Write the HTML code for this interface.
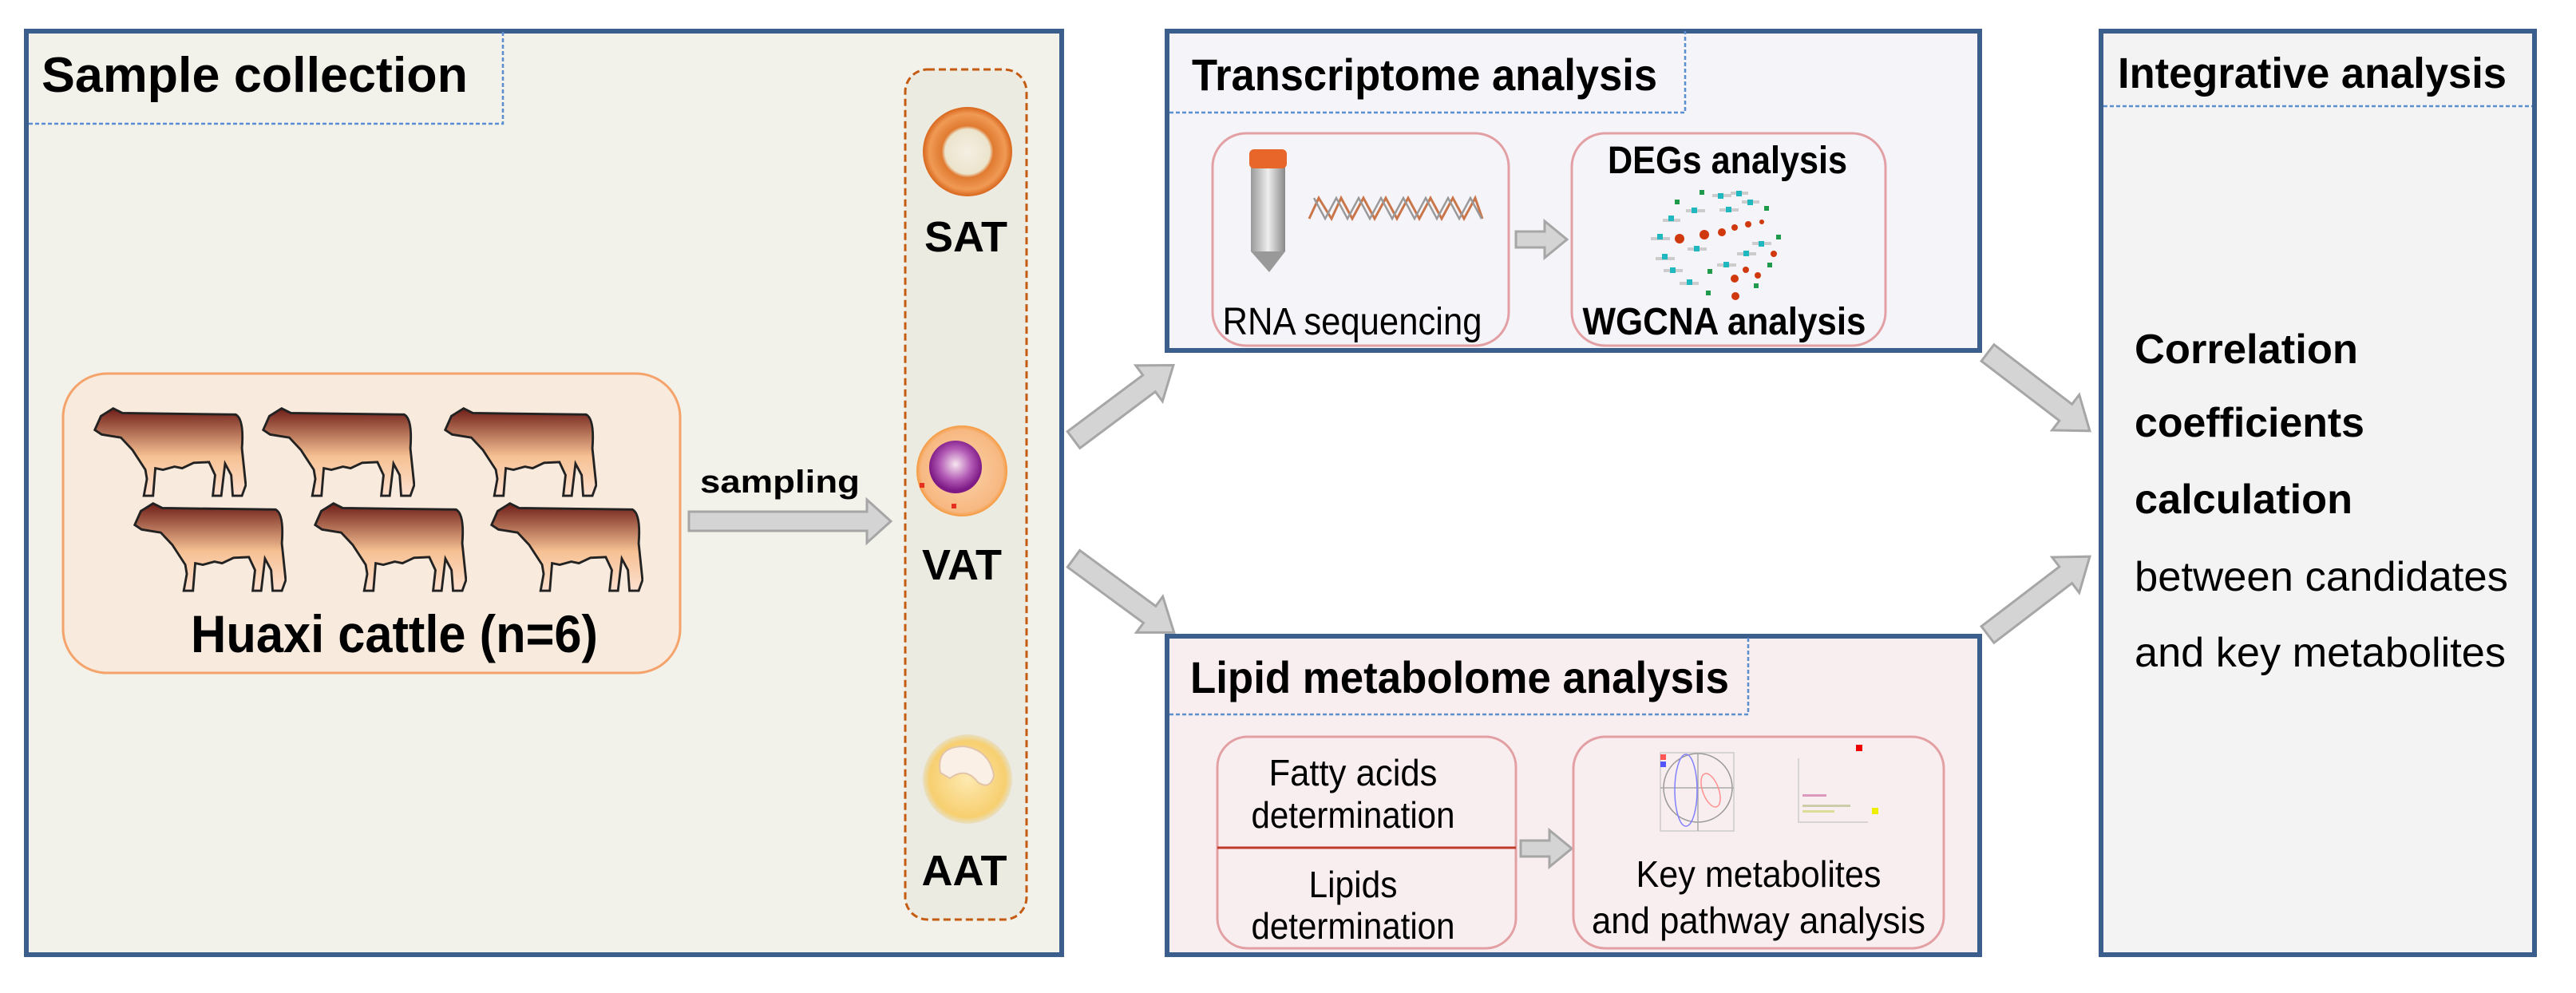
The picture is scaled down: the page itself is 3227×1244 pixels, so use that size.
<!DOCTYPE html>
<html><head><meta charset="utf-8"><style>html,body{margin:0;padding:0;background:#fff}svg{display:block}</style></head><body>
<svg width="3227" height="1244" viewBox="0 0 3227 1244" xmlns="http://www.w3.org/2000/svg" font-family="Liberation Sans, sans-serif">
<defs>
<linearGradient id="cow" x1="0" y1="0" x2="0" y2="1"><stop offset="0" stop-color="#6e1e18"/><stop offset="0.55" stop-color="#f6c193"/><stop offset="1" stop-color="#fde0d0"/></linearGradient>
<radialGradient id="sat" cx="0.5" cy="0.5" r="0.5"><stop offset="0" stop-color="#f5efe4"/><stop offset="0.5" stop-color="#ece4cc"/><stop offset="0.58" stop-color="#e07a30"/><stop offset="0.85" stop-color="#f09a55"/><stop offset="1" stop-color="#d8661c"/></radialGradient>
<radialGradient id="vat" cx="0.5" cy="0.5" r="0.5"><stop offset="0" stop-color="#fbd3a8"/><stop offset="0.9" stop-color="#f7b882"/><stop offset="1" stop-color="#f59a40"/></radialGradient>
<radialGradient id="nuc" cx="0.5" cy="0.45" r="0.5"><stop offset="0" stop-color="#f7e6ef"/><stop offset="0.6" stop-color="#b25ab5"/><stop offset="1" stop-color="#7d1a86"/></radialGradient>
<radialGradient id="aat" cx="0.5" cy="0.5" r="0.5"><stop offset="0" stop-color="#fde9b0"/><stop offset="0.85" stop-color="#f7cf70"/><stop offset="1" stop-color="#e8e0c4"/></radialGradient>
<linearGradient id="tube" x1="0" x2="1"><stop offset="0" stop-color="#999"/><stop offset="0.5" stop-color="#eee"/><stop offset="1" stop-color="#888"/></linearGradient>
<symbol id="cowS" viewBox="0 0 200 125">
<path d="M30,8 L42,14 L190,16 Q201,22 198,60 L203,108 L198,122 L186,122 L184,95 L176,80 L171,122 L160,122 L163,95 L155,78 L135,79 L120,86 L110,84 L95,88 L85,86 L82,122 L70,122 L74,100 L72,88 L55,62 L40,46 L15,42 L6,36 L14,18 Z" fill="url(#cow)" stroke="#222" stroke-width="3"/>
</symbol>
</defs>

<!-- Sample collection -->
<rect x="33" y="39" width="1297" height="1157" fill="#f2f1ea" stroke="#3b5e8c" stroke-width="6"/>
<path d="M36,155 H630 V39" fill="none" stroke="#5b8fd0" stroke-width="2.5" stroke-dasharray="5,3"/>
<text x="52" y="115" font-size="62" font-weight="bold" textLength="534" lengthAdjust="spacingAndGlyphs">Sample collection</text>

<rect x="79" y="468" width="773" height="375" rx="55" fill="#f8eadd" stroke="#f4a36a" stroke-width="3"/>
<use href="#cowS" x="109" y="504" width="200" height="120"/>
<use href="#cowS" x="320" y="504" width="200" height="120"/>
<use href="#cowS" x="548" y="504" width="200" height="120"/>
<use href="#cowS" x="159" y="623" width="200" height="120"/>
<use href="#cowS" x="385" y="623" width="200" height="120"/>
<use href="#cowS" x="606" y="623" width="200" height="120"/>
<text x="494" y="817" font-size="66" font-weight="bold" text-anchor="middle" textLength="510" lengthAdjust="spacingAndGlyphs">Huaxi cattle (n=6)</text>

<text x="877" y="617" font-size="40" font-weight="bold" textLength="200" lengthAdjust="spacingAndGlyphs">sampling</text>
<polygon points="863,641 1086,641 1086,626 1116,653 1086,680 1086,665 863,665" fill="#d4d4d4" stroke="#a6a6a6" stroke-width="3"/>

<rect x="1134" y="87" width="152" height="1065" rx="28" fill="#ecebe1" stroke="#c55a11" stroke-width="3" stroke-dasharray="9,5"/>
<circle cx="1212" cy="190" r="56" fill="url(#sat)"/>
<text x="1210" y="315" font-size="54" font-weight="bold" text-anchor="middle">SAT</text>
<circle cx="1205" cy="590" r="57" fill="url(#vat)"/>
<circle cx="1197" cy="585" r="33" fill="url(#nuc)"/>
<rect x="1152" y="605" width="6" height="6" fill="#e53020"/>
<rect x="1192" y="631" width="6" height="6" fill="#e53020"/>
<text x="1205" y="726" font-size="54" font-weight="bold" text-anchor="middle">VAT</text>
<circle cx="1212" cy="976" r="56" fill="url(#aat)"/>
<path d="M1178,968 Q1172,935 1208,935 Q1240,940 1245,972 Q1240,990 1225,980 Q1210,960 1190,975 Z" fill="#fbf0e6" stroke="#e2c4a8" stroke-width="2"/>
<text x="1208" y="1109" font-size="54" font-weight="bold" text-anchor="middle">AAT</text>

<!-- big arrows -->
<g fill="#d4d4d4" stroke="#a6a6a6" stroke-width="3">
<polygon transform="translate(1345,551) rotate(-36.8)" points="0,-13 118,-13 118,-28 156,0 118,28 118,13 0,13"/>
<polygon transform="translate(1345,700) rotate(36.3)" points="0,-13 118,-13 118,-28 156,0 118,28 118,13 0,13"/>
<polygon transform="translate(2490,442) rotate(37.4)" points="0,-13 123,-13 123,-28 161,0 123,28 123,13 0,13"/>
<polygon transform="translate(2490,795) rotate(-37.4)" points="0,-13 123,-13 123,-28 161,0 123,28 123,13 0,13"/>
</g>

<!-- Transcriptome -->
<rect x="1462" y="39" width="1018" height="400" fill="#f5f4f9" stroke="#3b5e8c" stroke-width="6"/>
<path d="M1465,141 H2111 V39" fill="none" stroke="#5b8fd0" stroke-width="2.5" stroke-dasharray="5,3"/>
<text x="1493" y="113" font-size="56" font-weight="bold" textLength="583" lengthAdjust="spacingAndGlyphs">Transcriptome analysis</text>
<rect x="1519" y="167" width="371" height="266" rx="42" fill="#f5f4f9" stroke="#e3a0a4" stroke-width="3"/>
<rect x="1969" y="167" width="393" height="266" rx="42" fill="#f5f4f9" stroke="#e3a0a4" stroke-width="3"/>
<rect x="1567" y="195" width="43" height="120" fill="url(#tube)"/>
<polygon points="1567,315 1610,315 1590,341" fill="#999"/>
<rect x="1565" y="187" width="47" height="24" rx="6" fill="#e8662a"/>
<path d="M1640,274 L1652,248 L1668,274 L1680,248 L1694,274 L1708,248 L1722,274 L1736,248 L1750,274 L1764,248 L1778,274 L1792,248 L1806,274 L1820,248 L1834,274 L1848,248 L1857,274" fill="none" stroke="#c8764a" stroke-width="3"/>
<path d="M1646,248 L1660,274 L1674,248 L1688,274 L1702,248 L1716,274 L1730,248 L1744,274 L1758,248 L1772,274 L1786,248 L1800,274 L1814,248 L1828,274 L1842,248 L1856,274" fill="none" stroke="#999" stroke-width="2.5"/>
<text x="1694" y="419" font-size="48" text-anchor="middle" textLength="325" lengthAdjust="spacingAndGlyphs">RNA sequencing</text>
<polygon points="1899,290 1935,290 1935,277 1963,300 1935,323 1935,310 1899,310" fill="#d4d4d4" stroke="#a6a6a6" stroke-width="3"/>
<text x="2164" y="217" font-size="48" font-weight="bold" text-anchor="middle" textLength="300" lengthAdjust="spacingAndGlyphs">DEGs analysis</text>
<text x="2160" y="419" font-size="48" font-weight="bold" text-anchor="middle" textLength="355" lengthAdjust="spacingAndGlyphs">WGCNA analysis</text>
<g fill="#ccc">
<rect x="2145" y="243" width="24" height="4"/><rect x="2168" y="240" width="22" height="4"/><rect x="2182" y="251" width="22" height="4"/><rect x="2112" y="262" width="24" height="4"/><rect x="2154" y="261" width="24" height="4"/><rect x="2083" y="274" width="22" height="4"/><rect x="2068" y="297" width="24" height="4"/><rect x="2114" y="310" width="24" height="4"/><rect x="2195" y="303" width="24" height="4"/><rect x="2176" y="316" width="24" height="4"/><rect x="2074" y="322" width="24" height="4"/><rect x="2151" y="330" width="24" height="4"/><rect x="2084" y="337" width="24" height="4"/><rect x="2104" y="353" width="24" height="4"/>
</g>
<g fill="#20b8c0">
<rect x="2152" y="242" width="7" height="7"/><rect x="2175" y="239" width="7" height="7"/><rect x="2189" y="250" width="7" height="7"/><rect x="2119" y="260" width="7" height="7"/><rect x="2162" y="259" width="7" height="7"/><rect x="2090" y="270" width="7" height="7"/><rect x="2076" y="293" width="7" height="7"/><rect x="2122" y="308" width="7" height="7"/><rect x="2203" y="302" width="7" height="7"/><rect x="2184" y="314" width="7" height="7"/><rect x="2082" y="318" width="7" height="7"/><rect x="2159" y="328" width="7" height="7"/><rect x="2092" y="335" width="7" height="7"/><rect x="2113" y="350" width="7" height="7"/>
</g>
<g fill="#1e9a4a">
<rect x="2129" y="238" width="6" height="6"/><rect x="2098" y="250" width="6" height="6"/><rect x="2210" y="258" width="6" height="6"/><rect x="2225" y="294" width="6" height="6"/><rect x="2214" y="329" width="6" height="6"/><rect x="2139" y="337" width="6" height="6"/><rect x="2197" y="355" width="6" height="6"/><rect x="2137" y="364" width="6" height="6"/>
</g>
<g fill="#d0380e">
<circle cx="2104" cy="299" r="6"/><circle cx="2135" cy="294" r="6"/><circle cx="2157" cy="291" r="5"/><circle cx="2173" cy="285" r="4"/><circle cx="2190" cy="281" r="4"/><circle cx="2207" cy="278" r="3"/><circle cx="2222" cy="318" r="4"/><circle cx="2187" cy="338" r="4"/><circle cx="2202" cy="345" r="4"/><circle cx="2173" cy="349" r="5"/><circle cx="2174" cy="371" r="5"/>
</g>

<!-- Lipid -->
<rect x="1462" y="797" width="1018" height="399" fill="#f9eeef" stroke="#3b5e8c" stroke-width="6"/>
<path d="M1465,895 H2190 V797" fill="none" stroke="#5b8fd0" stroke-width="2.5" stroke-dasharray="5,3"/>
<text x="1491" y="868" font-size="56" font-weight="bold" textLength="675" lengthAdjust="spacingAndGlyphs">Lipid metabolome analysis</text>
<rect x="1525" y="923" width="374" height="265" rx="38" fill="#f9eeef" stroke="#e3a0a4" stroke-width="3"/>
<line x1="1525" y1="1062" x2="1899" y2="1062" stroke="#c0392b" stroke-width="3"/>
<text x="1695" y="984" font-size="46" text-anchor="middle" textLength="211" lengthAdjust="spacingAndGlyphs">Fatty acids</text>
<text x="1695" y="1037" font-size="46" text-anchor="middle" textLength="255" lengthAdjust="spacingAndGlyphs">determination</text>
<text x="1695" y="1124" font-size="46" text-anchor="middle" textLength="111" lengthAdjust="spacingAndGlyphs">Lipids</text>
<text x="1695" y="1176" font-size="46" text-anchor="middle" textLength="255" lengthAdjust="spacingAndGlyphs">determination</text>
<polygon points="1905,1053 1941,1053 1941,1040 1969,1063 1941,1086 1941,1073 1905,1073" fill="#d4d4d4" stroke="#a6a6a6" stroke-width="3"/>
<rect x="1971" y="923" width="464" height="265" rx="40" fill="#f9eeef" stroke="#e3a0a4" stroke-width="3"/>
<g fill="none" stroke-width="1.5">
<rect x="2080" y="943" width="92" height="98" stroke="#ccc"/>
<circle cx="2127" cy="987" r="43" stroke="#999"/>
<line x1="2127" y1="943" x2="2127" y2="1041" stroke="#aaa"/><line x1="2080" y1="987" x2="2172" y2="987" stroke="#aaa"/>
<ellipse cx="2112" cy="990" rx="14" ry="45" stroke="#8080ff"/>
<ellipse cx="2143" cy="990" rx="10" ry="22" stroke="#ff9090" transform="rotate(-20 2143 990)"/>
<polyline points="2253,950 2253,1030 2340,1030" stroke="#ccc"/>
</g>
<rect x="2080" y="945" width="7" height="7" fill="#f55"/><rect x="2080" y="954" width="7" height="7" fill="#55f"/>
<rect x="2325" y="933" width="8" height="8" fill="#e00"/>
<rect x="2258" y="995" width="30" height="3" fill="#d9b"/><rect x="2258" y="1008" width="60" height="3" fill="#cca"/><rect x="2258" y="1015" width="40" height="3" fill="#dd9"/>
<rect x="2345" y="1012" width="8" height="8" fill="#ee0"/>
<text x="2203" y="1111" font-size="46" text-anchor="middle" textLength="307" lengthAdjust="spacingAndGlyphs">Key metabolites</text>
<text x="2203" y="1169" font-size="46" text-anchor="middle" textLength="418" lengthAdjust="spacingAndGlyphs">and pathway analysis</text>

<!-- Integrative -->
<rect x="2632" y="39" width="543" height="1157" fill="#f3f3f3" stroke="#3b5e8c" stroke-width="6"/>
<line x1="2635" y1="133" x2="3172" y2="133" stroke="#5b8fd0" stroke-width="2.5" stroke-dasharray="5,3"/>
<text x="2653" y="110" font-size="54" font-weight="bold" textLength="487" lengthAdjust="spacingAndGlyphs">Integrative analysis</text>
<text x="2674" y="455" font-size="52" font-weight="bold" textLength="280" lengthAdjust="spacingAndGlyphs">Correlation</text>
<text x="2674" y="547" font-size="52" font-weight="bold" textLength="288" lengthAdjust="spacingAndGlyphs">coefficients</text>
<text x="2674" y="643" font-size="52" font-weight="bold" textLength="273" lengthAdjust="spacingAndGlyphs">calculation</text>
<text x="2674" y="740" font-size="52" textLength="468" lengthAdjust="spacingAndGlyphs">between candidates</text>
<text x="2674" y="835" font-size="52" textLength="465" lengthAdjust="spacingAndGlyphs">and key metabolites</text>
</svg>
</body></html>
